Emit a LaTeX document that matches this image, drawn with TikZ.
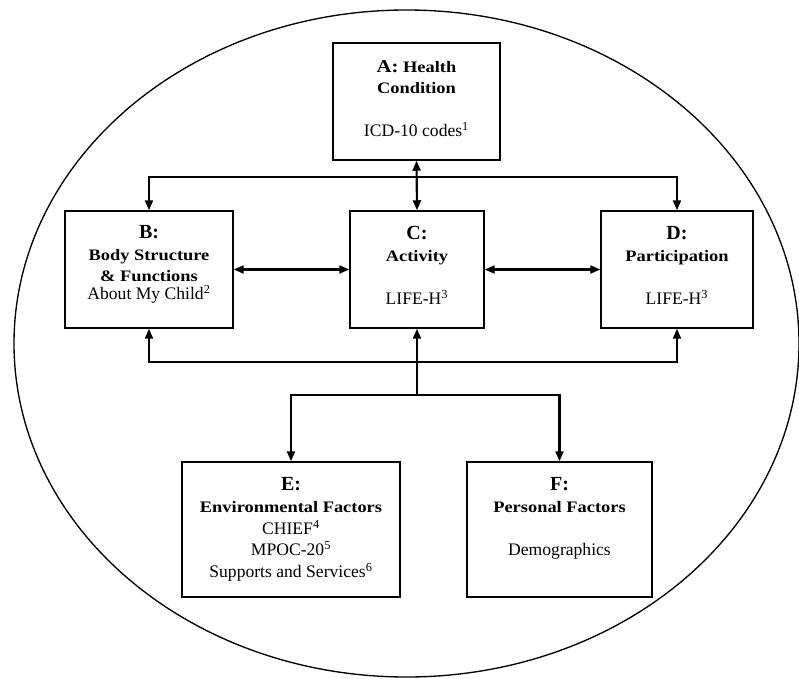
\documentclass[tikz,border=0pt]{standalone}
\usepackage{fontspec}
\setmainfont{Liberation Serif}
\newfontfamily\hbfont[FakeStretch=1.15]{Liberation Serif}
\usetikzlibrary{arrows.meta}
\begin{document}
\begin{tikzpicture}[x=0.75pt,y=-0.75pt,
  box/.style={draw,line width=1.1pt,inner sep=0pt,minimum height=87.75pt},
  boxlow/.style={draw,line width=1.1pt,inner sep=0pt,minimum height=101.25pt},
  lbl/.style={anchor=base,inner sep=0pt},
  hd/.style={lbl,font=\fontsize{15}{18}\selectfont\bfseries},
  sub/.style={lbl,font=\hbfont\bfseries\fontsize{12}{14}\selectfont},
  txt/.style={lbl,font=\fontsize{13.2}{16}\selectfont},
  conn/.style={line width=1.6pt,-{Triangle[length=7.5pt,width=6pt]}},
  bconn/.style={line width=1.6pt,{Triangle[length=7.5pt,width=6pt]}-{Triangle[length=7.5pt,width=6pt]}},
  plain/.style={line width=1.6pt}]
\useasboundingbox (0,0) rectangle (799,678);
\draw[line width=1pt] (406.5,343.5) ellipse [x radius=392.5, y radius=333.5];

% boxes
\node[box,minimum width=125.25pt] (A) at (416.5,101.5) {};
\node[box,minimum width=126pt] (B) at (149,269.5) {};
\node[box,minimum width=100.5pt] (C) at (417,269.5) {};
\node[box,minimum width=114pt] (D) at (677,269.5) {};
\node[boxlow,minimum width=163.5pt] (E) at (291,529.5) {};
\node[boxlow,minimum width=138.75pt] (F) at (559.5,529.5) {};

% texts
\node[sub] (a1) at (416.5,72) {{\fontsize{13.5}{16}\selectfont A:} Health};
\node[sub] (a2) at (416.5,93) {Condition};
\node[txt] (a3) at (416.5,136) {ICD-10 codes\textsuperscript{1}};

\node[hd] (b1) at (149,238) {B:};
\node[sub] (b2) at (149,260) {Body Structure};
\node[sub] (b3) at (149,281) {\& Functions};
\node[txt] (b4) at (149,299) {About My Child\textsuperscript{2}};

\node[hd] (c1) at (417,239) {C:};
\node[sub] (c2) at (417,261) {Activity};
\node[txt] (c3) at (417,304) {LIFE-H\textsuperscript{3}};

\node[hd] (d1) at (677,239) {D:};
\node[sub] (d2) at (677,261) {Participation};
\node[txt] (d3) at (677,304) {LIFE-H\textsuperscript{3}};

\node[hd] (e1) at (291,490) {E:};
\node[sub] (e2) at (291,512) {Environmental Factors};
\node[txt] (e3) at (291,534) {CHIEF\textsuperscript{4}};
\node[txt] (e4) at (291,555) {MPOC-20\textsuperscript{5}};
\node[txt] (e5) at (291,577) {Supports and Services\textsuperscript{6}};

\node[hd] (f1) at (559.5,490) {F:};
\node[sub] (f2) at (559.5,512) {Personal Factors};
\node[txt] (f3) at (559.5,555) {Demographics};

% junctions
\coordinate (j1) at (417,177);
\coordinate (j2) at (417,362);
\coordinate (j3) at (417,395);

% connectors
\draw[bconn] (A.south) -- (C.north);
\draw[conn] (j1) -| (B.north);
\draw[conn] (j1) -| (D.north);
\draw[bconn] (B.east) -- (C.west);
\draw[bconn] (C.east) -- (D.west);
\draw[conn] (j2) -| (B.south);
\draw[conn] (j2) -| (D.south);
\draw[conn] (j3) -- (C.south);
\draw[conn] (j3) -| (E.north);
\draw[conn] (j3) -| (F.north);
\end{tikzpicture}
\end{document}
